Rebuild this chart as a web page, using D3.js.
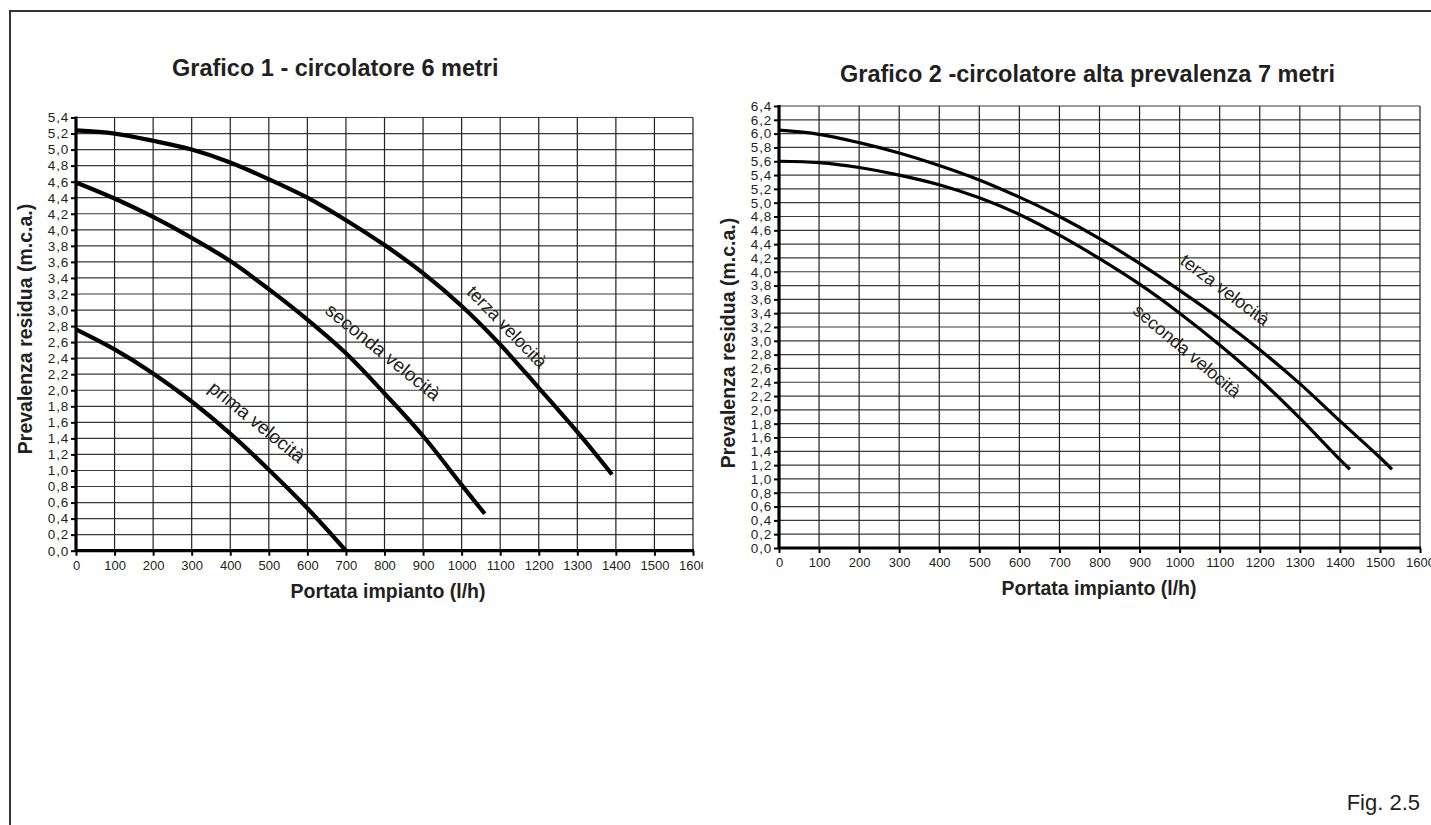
<!DOCTYPE html>
<html>
<head>
<meta charset="utf-8">
<script src="https://cdn.jsdelivr.net/npm/d3@7"></script>
<style>
  html, body { margin: 0; padding: 0; background: #fff; }
  svg { display: block; font-family: "Liberation Sans", Arial, Helvetica, sans-serif; }
</style>
</head>
<body>
<svg id="chart" width="1431" height="825"></svg>
<script>
// ---------- DATA ----------
// Grafico 1 - circolatore 6 metri
const g1Title = "Grafico 1 - circolatore 6 metri";
const g1PrimaFlow   = [0, 100, 200, 300, 400, 500, 600, 700];
const g1PrimaHead   = [2.76, 2.51, 2.21, 1.86, 1.46, 1.01, 0.53, 0.0];
const g1SecondaFlow = [0, 100, 200, 300, 400, 500, 600, 700, 800, 900, 1000, 1060];
const g1SecondaHead = [4.59, 4.39, 4.16, 3.90, 3.61, 3.26, 2.88, 2.46, 1.96, 1.43, 0.82, 0.46];
const g1TerzaFlow   = [0, 100, 200, 300, 400, 500, 600, 700, 800, 900, 1000, 1100, 1200, 1300, 1390];
const g1TerzaHead   = [5.24, 5.20, 5.11, 5.00, 4.84, 4.63, 4.40, 4.12, 3.81, 3.46, 3.05, 2.57, 2.03, 1.48, 0.95];
const g1YMax = 5.4;

// Grafico 2 - circolatore alta prevalenza 7 metri
const g2Title = "Grafico 2 -circolatore alta prevalenza 7 metri";
const g2SecondaFlow = [0, 100, 200, 300, 400, 500, 600, 700, 800, 900, 1000, 1100, 1200, 1300, 1400, 1425];
const g2SecondaHead = [5.60, 5.58, 5.51, 5.40, 5.26, 5.07, 4.83, 4.53, 4.19, 3.82, 3.40, 2.94, 2.44, 1.88, 1.28, 1.14];
const g2TerzaFlow   = [0, 100, 200, 300, 400, 500, 600, 700, 800, 900, 1000, 1100, 1200, 1300, 1400, 1500, 1530];
const g2TerzaHead   = [6.05, 5.99, 5.87, 5.72, 5.54, 5.33, 5.08, 4.80, 4.48, 4.12, 3.73, 3.32, 2.87, 2.38, 1.84, 1.31, 1.14];
const g2YMax = 6.4;

// Shared axis definitions
const xMax = 1600;
const xTickValues = d3.range(0, 1601, 100);
const yStep = 0.2;
const xTitle = "Portata impianto (l/h)";
const yTitle = "Prevalenza residua (m.c.a.)";
const labelPrima = "prima velocità";
const labelSeconda = "seconda velocità";
const labelTerza = "terza velocità";
const figLabel = "Fig. 2.5";

// ---------- DRAW ----------
const svg = d3.select("#chart");
const ink = "#231f20";

// page frame (top and left edges)
svg.append("path")
  .attr("d", "M10,830 L10,11 L1440,11")
  .attr("fill", "none").attr("stroke", "#333").attr("stroke-width", 2);

const fmtY = v => d3.format(".1f")(v).replace(".", ",");

function drawChart(cfg) {
  const g = svg.append("g");
  const x = d3.scaleLinear().domain([0, xMax]).range([cfg.x0, cfg.x1]);
  const y = d3.scaleLinear().domain([0, cfg.yMax]).range([cfg.y0, cfg.y1]);
  const yTicks = d3.range(0, Math.round(cfg.yMax / yStep) + 1).map(i => +(i * yStep).toFixed(1));

  // grid
  g.append("g").selectAll("line").data(yTicks.slice(1)).join("line")
    .attr("x1", x(0)).attr("x2", x(xMax))
    .attr("y1", d => y(d)).attr("y2", d => y(d))
    .attr("stroke", "#3a3a3a").attr("stroke-width", 1.2);
  g.append("g").selectAll("line").data(xTickValues.slice(1)).join("line")
    .attr("x1", d => x(d)).attr("x2", d => x(d))
    .attr("y1", y(0)).attr("y2", y(cfg.yMax))
    .attr("stroke", "#222").attr("stroke-width", 1.2);

  // axes
  const xAxis = d3.axisBottom(x).tickValues(xTickValues).tickSize(5).tickPadding(5).tickFormat(d3.format("d"));
  const yAxis = d3.axisLeft(y).tickValues(yTicks).tickSize(5).tickPadding(2).tickFormat(fmtY);

  const gx = g.append("g").attr("transform", `translate(0,${y(0)})`).call(xAxis);
  gx.select(".domain").attr("stroke", "#000").attr("stroke-width", 3.2).attr("d", `M${x(0)-1},0H${x(xMax)+1}`);
  gx.selectAll(".tick line").attr("stroke", "#000").attr("stroke-width", 2);
  gx.selectAll(".tick text").attr("fill", ink).style("font-size", "13px");
  if (cfg.clipX) gx.attr("clip-path", `url(#${cfg.clipX})`);

  const gy = g.append("g").attr("transform", `translate(${x(0)},0)`).call(yAxis);
  gy.select(".domain").attr("stroke", "#000").attr("stroke-width", 3.2).attr("d", `M0,${y(0)+1}V${y(cfg.yMax)-1}`);
  gy.selectAll(".tick line").attr("stroke", "#000").attr("stroke-width", 2);
  gy.selectAll(".tick text").attr("fill", ink).style("font-size", "13.5px").style("letter-spacing", "0.8px");

  // curves
  const line = d3.line().x(d => x(d[0])).y(d => y(d[1])).curve(d3.curveCatmullRom.alpha(0.5));
  cfg.series.forEach(s => {
    const pts = s.flow.map((f, i) => [f, s.head[i]]);
    g.append("path").datum(pts).attr("d", line)
      .attr("fill", "none").attr("stroke", "#000").attr("stroke-width", cfg.lineWidth)
      .attr("stroke-linecap", "butt").attr("stroke-linejoin", "round");
    g.append("text")
      .attr("transform", `translate(${s.lx},${s.ly}) rotate(${s.angle})`)
      .attr("text-anchor", "middle").attr("dominant-baseline", "central")
      .attr("fill", ink).style("font-size", s.fs + "px")
      .text(s.label);
  });

  // titles
  g.append("text").attr("x", cfg.titleX).attr("y", cfg.titleY)
    .attr("text-anchor", "start").attr("fill", ink)
    .style("font-size", "23.5px").style("font-weight", "bold").text(cfg.title);
  g.append("text").attr("x", cfg.xtX).attr("y", cfg.xtY)
    .attr("text-anchor", "middle").attr("fill", ink)
    .style("font-size", "19.5px").style("font-weight", "bold").text(xTitle);
  g.append("text").attr("transform", `translate(${cfg.ytX},${cfg.ytY}) rotate(-90)`)
    .attr("text-anchor", "middle").attr("fill", ink)
    .style("font-size", "19.5px").style("font-weight", "bold").text(yTitle);
}

// clip for left chart x labels (last label cut off)
svg.append("defs").append("clipPath").attr("id", "clipLeftX")
  .append("rect").attr("x", 0).attr("y", -20).attr("width", 703).attr("height", 60);

drawChart({
  x0: 76, x1: 693, y0: 550.7, y1: 117.5, yMax: g1YMax, lineWidth: 4.2, clipX: "clipLeftX",
  title: g1Title, titleX: 172, titleY: 76,
  xtX: 388, xtY: 598, ytX: 32, ytY: 329,
  series: [
    { flow: g1PrimaFlow, head: g1PrimaHead, label: labelPrima, lx: 257, ly: 422, angle: 39, fs: 19 },
    { flow: g1SecondaFlow, head: g1SecondaHead, label: labelSeconda, lx: 383, ly: 352, angle: 39, fs: 19 },
    { flow: g1TerzaFlow, head: g1TerzaHead, label: labelTerza, lx: 507, ly: 327, angle: 46, fs: 18 }
  ]
});

drawChart({
  x0: 779, x1: 1420, y0: 548, y1: 106, yMax: g2YMax, lineWidth: 3.2,
  title: g2Title, titleX: 840, titleY: 82,
  xtX: 1099, xtY: 595, ytX: 735, ytY: 343,
  series: [
    { flow: g2SecondaFlow, head: g2SecondaHead, label: labelSeconda, lx: 1187, ly: 351, angle: 40, fs: 18 },
    { flow: g2TerzaFlow, head: g2TerzaHead, label: labelTerza, lx: 1225, ly: 290, angle: 37, fs: 18 }
  ]
});

svg.append("text").attr("x", 1420).attr("y", 810)
  .attr("text-anchor", "end").attr("fill", ink)
  .style("font-size", "22px").text(figLabel);
</script>
</body>
</html>
